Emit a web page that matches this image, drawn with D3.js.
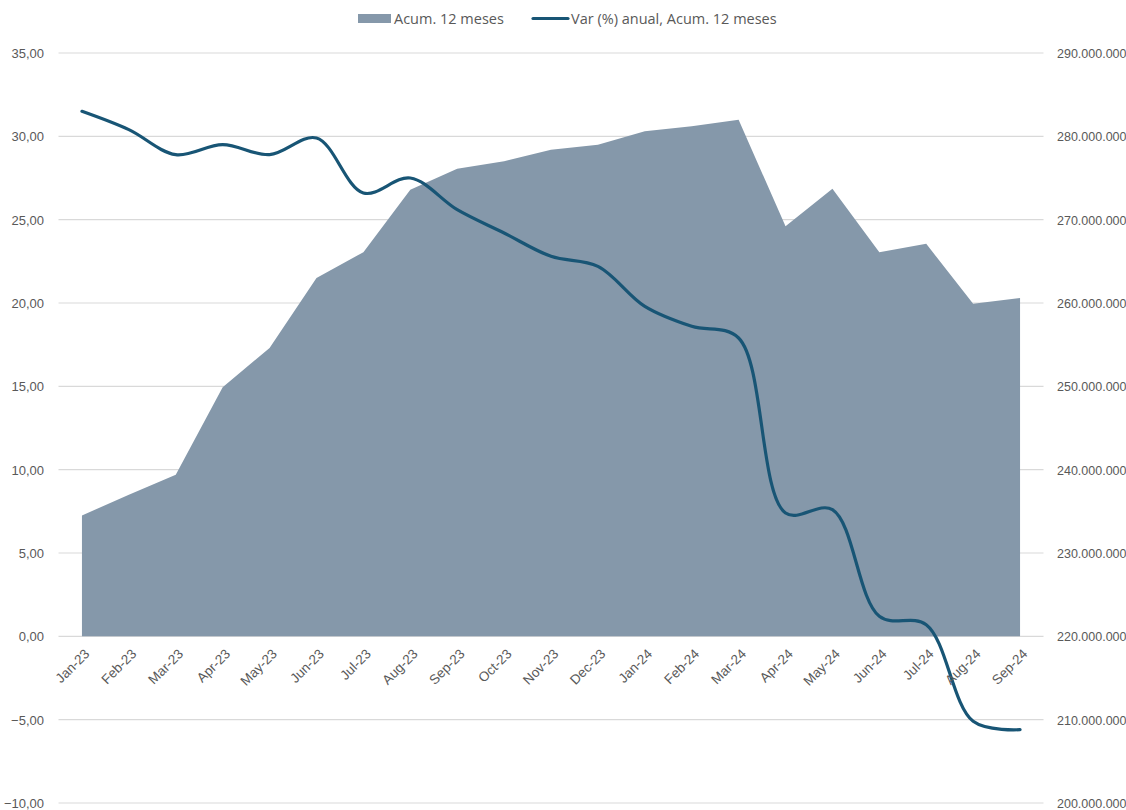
<!DOCTYPE html>
<html>
<head>
<meta charset="utf-8">
<script src="https://cdn.jsdelivr.net/npm/d3@7"></script>
<style>
  body { margin: 0; background: #fff; }
  svg { display: block; font-family: "Open Sans", sans-serif; }
</style>
</head>
<body>
<svg id="chart"></svg>
<script>
var width = 1126;
var height = 810;

// data
var months = ["Jan-23","Feb-23","Mar-23","Apr-23","May-23","Jun-23","Jul-23","Aug-23","Sep-23","Oct-23","Nov-23",
  "Dec-23","Jan-24","Feb-24","Mar-24","Apr-24","May-24","Jun-24","Jul-24","Aug-24","Sep-24"];
var acum12 = [234.5e6, 237.0e6, 239.4e6, 249.9e6, 254.6e6, 263.0e6, 266.1e6, 273.6e6, 276.1e6, 277.0e6, 278.4e6,
  279.0e6, 280.6e6, 281.2e6, 282.0e6, 269.2e6, 273.7e6, 266.1e6, 267.1e6, 259.9e6, 260.6e6];
var varAnual = [31.5, 30.4, 28.9, 29.5, 28.9, 29.9, 26.6, 27.5, 25.6, 24.2, 22.8,
  22.2, 19.8, 18.6, 17.9, 7.4, 7.6, 1.2, 0.7, -5.1, -5.6];
var leftTicks = [35, 30, 25, 20, 15, 10, 5, 0, -5, -10];
var rightTicks = [290e6, 280e6, 270e6, 260e6, 250e6, 240e6, 230e6, 220e6, 210e6, 200e6];
var seriesNames = ["Acum. 12 meses", "Var (%) anual, Acum. 12 meses"];

var areaColor = "#8598aa";
var lineColor = "#185575";
var gridColor = "#d9d9d9";
var textColor = "#595959";

var plot = { left: 58.5, right: 1043.5, top: 53, bottom: 803 };

var svg = d3.select("#chart").attr("width", width).attr("height", height);

var x = d3.scaleBand().domain(months).range([plot.left, plot.right]);
var xc = function (m) { return x(m) + x.bandwidth() / 2; };
var yL = d3.scaleLinear().domain([-10, 35]).range([plot.bottom, plot.top]);
var yR = d3.scaleLinear().domain([200e6, 290e6]).range([plot.bottom, plot.top]);

var fmtL = function (v) { return d3.format(".2f")(v).replace(".", ","); };
var fmtR = function (v) { return d3.format(",")(v).replace(/,/g, "."); };

// gridlines
svg.append("g").selectAll("line").data(leftTicks).enter().append("line")
  .attr("x1", plot.left).attr("x2", plot.right)
  .attr("y1", function (d) { return yL(d); })
  .attr("y2", function (d) { return yL(d); })
  .attr("stroke", gridColor).attr("stroke-width", 1.2);

// area (fills down to the category axis at 0)
var area = d3.area()
  .x(function (d, i) { return xc(months[i]); })
  .y0(yL(0))
  .y1(function (d) { return yR(d); });
svg.append("path").datum(acum12).attr("d", area).attr("fill", areaColor);

// smoothed line
var line = d3.line()
  .x(function (d, i) { return xc(months[i]); })
  .y(function (d) { return yL(d); })
  .curve(d3.curveCatmullRom.alpha(0.5));
svg.append("path").datum(varAnual).attr("d", line)
  .attr("fill", "none").attr("stroke", lineColor).attr("stroke-width", 3.2)
  .attr("stroke-linecap", "round");

// left axis
var axL = svg.append("g").attr("transform", "translate(" + 44 + ",0)")
  .call(d3.axisLeft(yL).tickValues(leftTicks).tickFormat(fmtL).tickSize(0).tickPadding(0));
axL.select(".domain").remove();
axL.selectAll("text").attr("fill", textColor).style("font-size", "13px").attr("dy", "0.35em");

// right axis
var axR = svg.append("g").attr("transform", "translate(" + 1057 + ",0)")
  .call(d3.axisRight(yR).tickValues(rightTicks).tickFormat(fmtR).tickSize(0).tickPadding(0));
axR.select(".domain").remove();
axR.selectAll("text").attr("fill", textColor).style("font-size", "12.5px").attr("dy", "0.35em");

// category labels, rotated
var axX = svg.append("g").attr("transform", "translate(0," + yL(0) + ")")
  .call(d3.axisBottom(x).tickSize(0).tickPadding(0));
axX.select(".domain").remove();
axX.selectAll("text")
  .attr("fill", textColor).style("font-size", "13.5px")
  .attr("text-anchor", "end")
  .attr("dy", "0.35em")
  .attr("transform", "translate(5,15) rotate(-45)");

// legend
var leg = svg.append("g").style("font-size", "14.5px").attr("fill", textColor);
leg.append("rect").attr("x", 358).attr("y", 14).attr("width", 33).attr("height", 9).attr("fill", areaColor);
leg.append("text").attr("x", 394).attr("y", 19).attr("dy", "0.35em").attr("fill", textColor).text(seriesNames[0]);
leg.append("line").attr("x1", 533).attr("x2", 568).attr("y1", 18.5).attr("y2", 18.5)
  .attr("stroke", lineColor).attr("stroke-width", 3.2).attr("stroke-linecap", "round");
leg.append("text").attr("x", 571).attr("y", 19).attr("dy", "0.35em").attr("fill", textColor).text(seriesNames[1]);
</script>
</body>
</html>
